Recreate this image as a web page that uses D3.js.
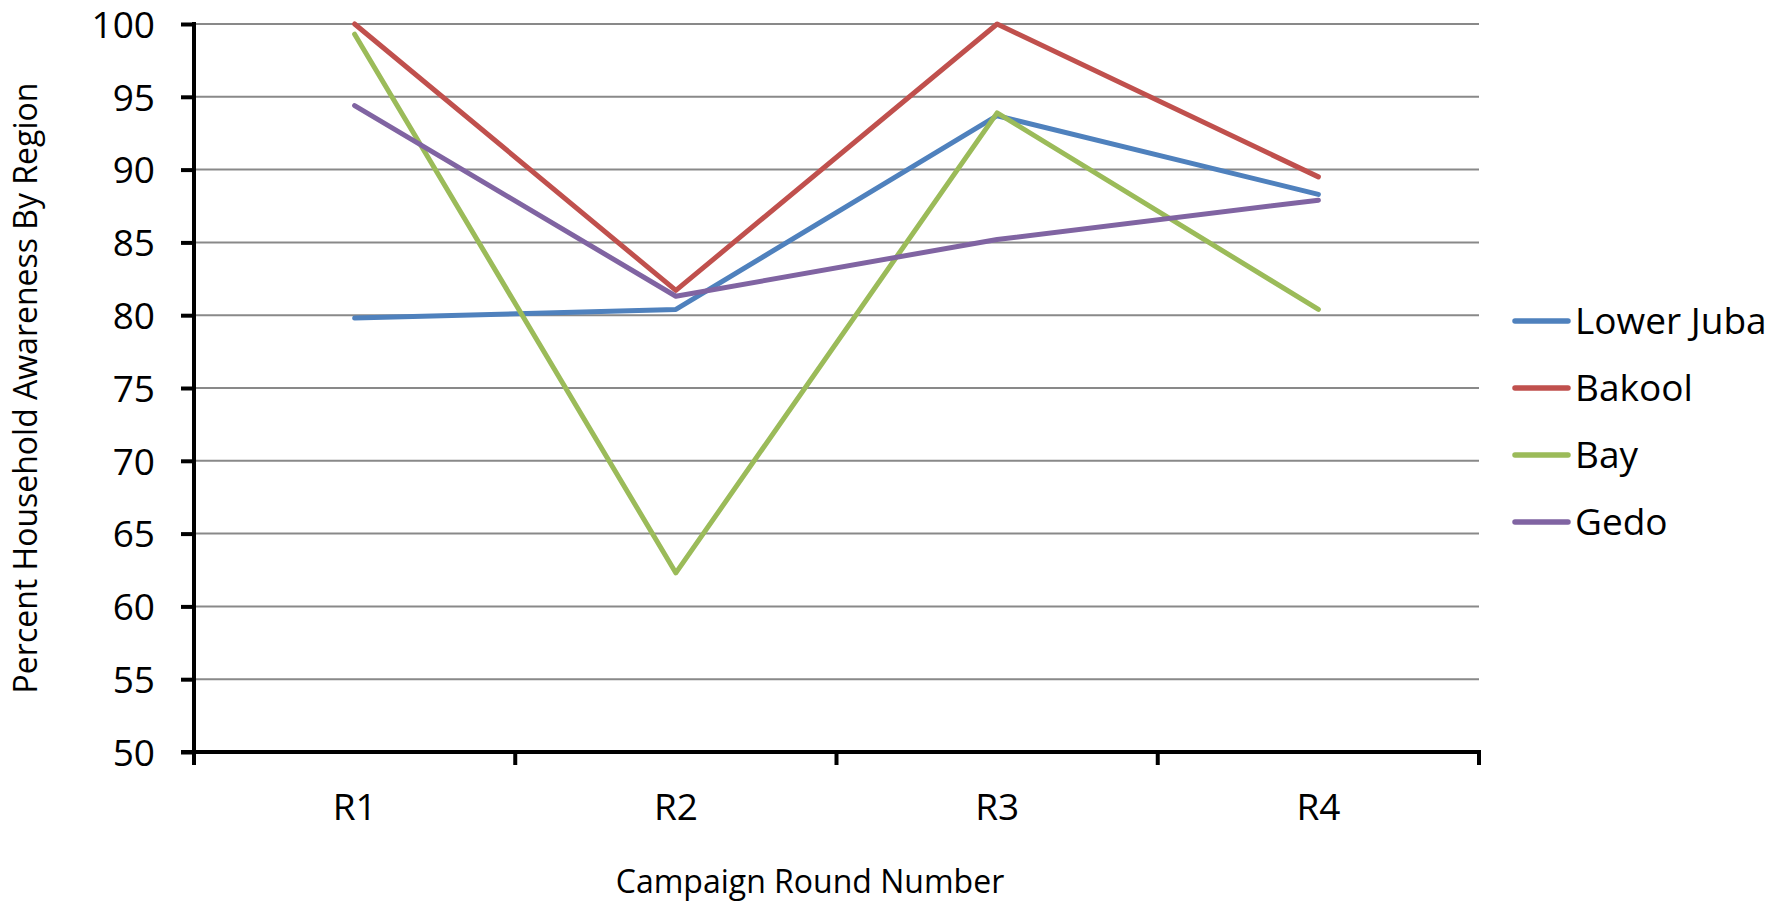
<!DOCTYPE html>
<html><head><meta charset="utf-8">
<script src="https://cdn.jsdelivr.net/npm/d3@7"></script>
<style>body{margin:0;background:#fff}svg{display:block}text{font-family:"Open Sans",sans-serif;fill:#000}</style>
</head><body>
<script>
const rounds = ["R1","R2","R3","R4"];
const seriesNames = ["Lower Juba","Bakool","Bay","Gedo"];
const lowerJuba = [79.8, 80.4, 93.7, 88.3];
const bakool = [100, 81.7, 100, 89.5];
const bay = [99.3, 62.3, 93.9, 80.4];
const gedo = [94.4, 81.3, 85.2, 87.9];
const colors = ["#4F81BD","#C0504D","#9BBB59","#8064A2"];
const yTicks = [50,55,60,65,70,75,80,85,90,95,100];

const W = 1783, H = 903;
const L = 194, R = 1479, T = 24, B = 752;
const svg = d3.select("body").append("svg").attr("width", W).attr("height", H);
const x = d3.scaleBand().domain(rounds).range([L, R]);
const y = d3.scaleLinear().domain([50, 100]).range([B, T]);

// gridlines
svg.append("g").selectAll("line").data(yTicks.slice(1)).join("line")
  .attr("x1", L).attr("x2", R).attr("y1", d => y(d)).attr("y2", d => y(d))
  .attr("stroke", "#898989").attr("stroke-width", 2);

// y axis
const ya = svg.append("g").attr("transform", `translate(${L},0)`)
  .call(d3.axisLeft(y).tickValues(yTicks).tickSize(13).tickPadding(26));
ya.select(".domain").remove();
ya.selectAll(".tick line").attr("stroke", "#000").attr("stroke-width", 4);
ya.selectAll(".tick text").style("font-size", "37px").attr("dy", "0.36em");
svg.append("line").attr("x1", L).attr("x2", L).attr("y1", T - 2).attr("y2", B + 13)
  .attr("stroke", "#000").attr("stroke-width", 4);

// x axis
const xa = svg.append("g").attr("transform", `translate(0,${B})`)
  .call(d3.axisBottom(x).tickSize(0));
xa.select(".domain").remove();
xa.selectAll(".tick text").style("font-size", "37px").attr("y", 68).attr("dy", 0);
const bounds = rounds.map(r => x(r)).concat([R]);
svg.append("g").selectAll("line").data(bounds).join("line")
  .attr("x1", d => d).attr("x2", d => d).attr("y1", B).attr("y2", B + 13)
  .attr("stroke", "#000").attr("stroke-width", 4);
svg.append("line").attr("x1", L - 13).attr("x2", R + 2).attr("y1", B).attr("y2", B)
  .attr("stroke", "#000").attr("stroke-width", 4);

// lines
const data = [lowerJuba, bakool, bay, gedo];
const line = d3.line().x((d, i) => x(rounds[i]) + x.bandwidth() / 2).y(d => y(d));
svg.append("g").selectAll("path").data(data).join("path")
  .attr("d", line).attr("fill", "none")
  .attr("stroke", (d, i) => colors[i]).attr("stroke-width", 5)
  .attr("stroke-linecap", "round").attr("stroke-linejoin", "round");

// legend
const lg = svg.append("g").selectAll("g").data(seriesNames).join("g")
  .attr("transform", (d, i) => `translate(1515,${321 + i * 67})`);
lg.append("line").attr("x1", 0).attr("x2", 53).attr("y1", 0).attr("y2", 0)
  .attr("stroke", (d, i) => colors[i]).attr("stroke-width", 5.5).attr("stroke-linecap", "round");
lg.append("text").attr("x", 60).attr("y", 13).style("font-size", "37px").text(d => d);

// axis titles
svg.append("text").attr("x", 810).attr("y", 893)
  .attr("text-anchor", "middle").style("font-size", "32px").text("Campaign Round Number");
svg.append("text").attr("transform", `translate(37,388) rotate(-90)`)
  .attr("text-anchor", "middle").style("font-size", "32px").text("Percent Household Awareness By Region");
</script>
</body></html>
